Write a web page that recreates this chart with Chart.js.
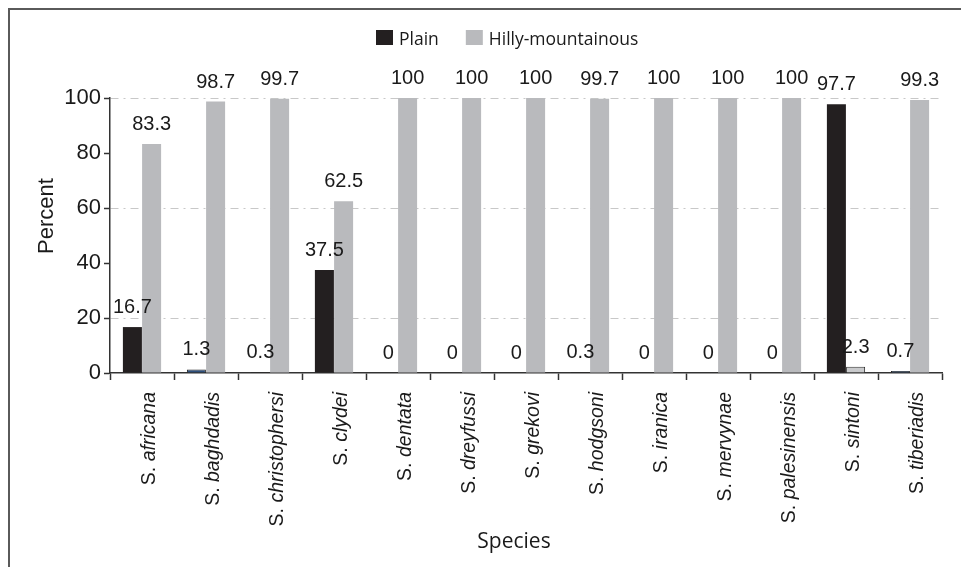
<!DOCTYPE html>
<html><head><meta charset="utf-8">
<script src="https://cdn.jsdelivr.net/npm/chart.js@4.4.1/dist/chart.umd.min.js"></script>
<style>
html,body{margin:0;padding:0;background:#fff;}
#wrap{position:relative;width:961px;height:567px;overflow:hidden;}
#frame{position:absolute;left:8px;top:8px;width:980px;height:600px;border-left:2px solid #5a5a5a;border-top:2px solid #5a5a5a;pointer-events:none;}
canvas{position:absolute;left:0;top:0;}
</style></head>
<body><div id="wrap"><canvas id="c" width="961" height="567"></canvas><div id="frame"></div></div>
<script>
const categories = ['S. africana','S. baghdadis','S. christophersi','S. clydei','S. dentata','S. dreyfussi','S. grekovi','S. hodgsoni','S. iranica','S. mervynae','S. palesinensis','S. sintoni','S. tiberiadis'];
const plainValues = [16.7, 1.3, 0.3, 37.5, 0, 0, 0, 0.3, 0, 0, 0, 97.7, 0.7];
const hillyValues = [83.3, 98.7, 99.7, 62.5, 100, 100, 100, 99.7, 100, 100, 100, 2.3, 99.3];
const seriesNames = ['Plain', 'Hilly-mountainous'];
const yTicks = [0, 20, 40, 60, 80, 100];
const gridValues = [20, 60, 100];
const xTitle = 'Species';
const yTitle = 'Percent';
const bluePlain = ['S. baghdadis', 'S. tiberiadis'];
const outlinedHilly = ['S. sintoni'];

const PLAIN = '#231f20', HILLY = '#b9babd', BLUE = '#2d4f7c', LIGHT = '#c9cacc';
const ARIAL = '"Liberation Sans", Arial, sans-serif';

const customDraw = {
  id: 'customDraw',
  afterDatasetsDraw(chart) {
    const ctx = chart.ctx;
    const xs = chart.scales.x, ys = chart.scales.y;
    ctx.save();
    // value labels
    ctx.fillStyle = '#1a1a1a';
    ctx.font = '20px ' + ARIAL;
    ctx.textAlign = 'center';
    ctx.textBaseline = 'alphabetic';
    chart.data.datasets.forEach((ds, di) => {
      const meta = chart.getDatasetMeta(di);
      meta.data.forEach((bar, i) => {
        const v = ds.data[i];
        ctx.fillText(String(v), bar.x, ys.getPixelForValue(v) - 14);
      });
    });
    // x category labels, rotated, "S." upright + italic name
    const top = chart.chartArea.bottom + 19;
    const fs = 19.5;
    categories.forEach((lab, i) => {
      const cx = xs.getPixelForValue(i) + 13;
      const parts = lab.split(' ');
      const pre = parts[0] + ' ';
      const name = parts.slice(1).join(' ');
      ctx.save();
      ctx.translate(cx, top);
      ctx.rotate(-Math.PI / 2);
      ctx.textBaseline = 'alphabetic';
      ctx.textAlign = 'left';
      ctx.font = 'italic ' + fs + 'px ' + ARIAL;
      const wName = ctx.measureText(name).width;
      ctx.font = fs + 'px ' + ARIAL;
      const wPre = ctx.measureText(pre).width;
      const start = -(wPre + wName);
      ctx.fillStyle = '#1a1a1a';
      ctx.fillText(pre, start, 0);
      ctx.font = 'italic ' + fs + 'px ' + ARIAL;
      ctx.fillText(name, start + wPre, 0);
      ctx.restore();
    });
    // axis titles
    ctx.fillStyle = '#1a1a1a';
    ctx.font = '21px "Open Sans", sans-serif';
    ctx.textAlign = 'center';
    ctx.textBaseline = 'alphabetic';
    ctx.fillText(xTitle, 514, 548);
    ctx.save();
    ctx.translate(53, 216);
    ctx.rotate(-Math.PI / 2);
    ctx.font = '22px ' + ARIAL;
    ctx.fillText(yTitle, 0, 0);
    ctx.restore();
    // legend
    ctx.font = '17.5px "Open Sans", sans-serif';
    ctx.textAlign = 'left';
    let lx = 376;
    chart.data.datasets.forEach((ds, di) => {
      ctx.fillStyle = di === 0 ? PLAIN : HILLY;
      ctx.fillRect(lx, 30, 17, 15);
      ctx.fillStyle = '#1a1a1a';
      ctx.fillText(ds.label, lx + 23, 45);
      lx = lx + 23 + ctx.measureText(ds.label).width + 27;
    });
    ctx.restore();
  }
};

new Chart(document.getElementById('c'), {
  type: 'bar',
  data: {
    labels: categories,
    datasets: [
      {
        label: seriesNames[0],
        data: plainValues,
        backgroundColor: categories.map(c => bluePlain.includes(c) ? BLUE : PLAIN),
        borderColor: '#222',
        borderWidth: categories.map(c => bluePlain.includes(c) ? 1 : 0)
      },
      {
        label: seriesNames[1],
        data: hillyValues,
        backgroundColor: categories.map(c => outlinedHilly.includes(c) ? LIGHT : HILLY),
        borderColor: '#333',
        borderWidth: categories.map(c => outlinedHilly.includes(c) ? 1 : 0)
      }
    ]
  },
  options: {
    responsive: false,
    animation: false,
    devicePixelRatio: 1,
    layout: { padding: { left: 20, right: 19, top: 98, bottom: 10 } },
    datasets: { bar: { categoryPercentage: 0.6, barPercentage: 0.99 } },
    plugins: { legend: { display: false }, tooltip: { enabled: false } },
    scales: {
      x: {
        offset: true,
        ticks: { display: false },
        grid: { offset: true, drawOnChartArea: false, drawTicks: true, tickLength: 7, tickColor: '#333', tickWidth: 1.5 },
        border: { color: '#333', width: 1.5 },
        afterFit(s) { s.height = 184; }
      },
      y: {
        min: 0, max: 100,
        afterBuildTicks(s) { s.ticks = yTicks.map(v => ({ value: v })); },
        ticks: { font: { family: ARIAL, size: 22 }, color: '#1a1a1a', padding: 3 },
        grid: {
          color: c => (c.tick && gridValues.includes(c.tick.value) && c.tick.value !== 0) ? '#c8c8c8' : 'rgba(0,0,0,0)',
          lineWidth: 1, tickColor: '#333', tickLength: 6, tickWidth: 1.5, drawTicks: true
        },
        border: { color: '#333', width: 1.5, dash: [8, 5, 2, 5] },
        afterFit(s) { s.width = 90; }
      }
    }
  },
  plugins: [customDraw]
});
</script>
</body></html>
